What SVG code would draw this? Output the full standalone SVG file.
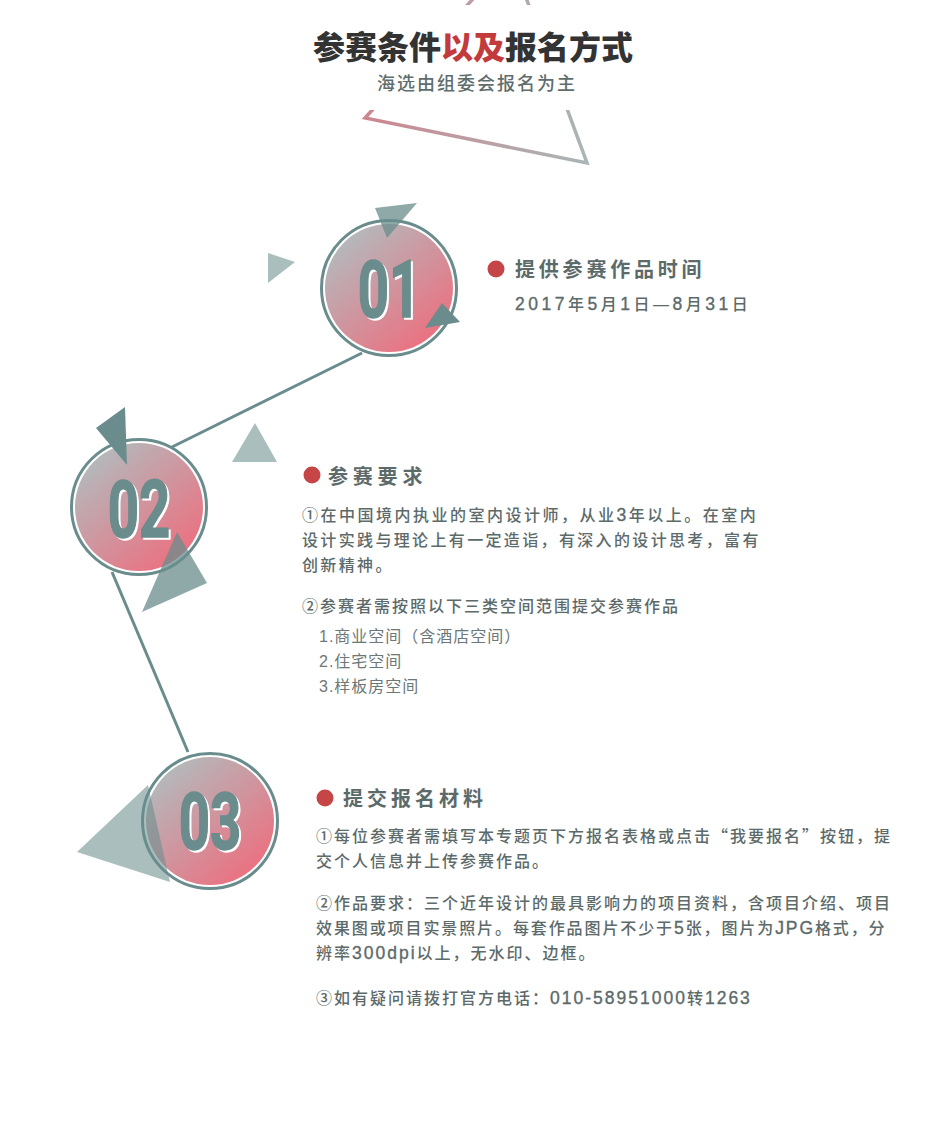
<svg xmlns="http://www.w3.org/2000/svg" width="950" height="1128" viewBox="0 0 950 1128">
<defs>
<linearGradient id="cg" x1="0.18" y1="0.12" x2="0.85" y2="0.9">
<stop offset="0" stop-color="#b5b7ba"/>
<stop offset="1" stop-color="#ec7080"/>
</linearGradient>
<linearGradient id="tg" gradientUnits="userSpaceOnUse" x1="365" y1="0" x2="587" y2="0">
<stop offset="0" stop-color="#cc8690"/>
<stop offset="1" stop-color="#a9b6b6"/>
</linearGradient>
<style>
.ring{fill:none;stroke:#6a8c8c;stroke-width:3}
.fill{fill:url(#cg)}
.num{font-family:Roboto,"Liberation Sans",sans-serif;font-weight:700;font-size:80px;text-anchor:middle}
.numf{fill:#6a8c8c;stroke:#6a8c8c;stroke-width:1.5}
.nums{fill:#ffffff;stroke:#ffffff;stroke-width:1.5}
.dark{fill:#6a8c8c}
.mid{fill:#6a8c8c;opacity:0.75}
.light{fill:#6a8c8c;opacity:0.57}
.conn{stroke:#6a8c8c;stroke-width:3;fill:none}
.dot{fill:#c64547}
.h{font-family:"Noto Sans CJK SC","Noto Sans",sans-serif;font-weight:700;font-size:20px;fill:#5c6a6a}
.b{font-family:"Liberation Sans","Noto Sans CJK SC",sans-serif;font-weight:500;font-size:16px;fill:#5c6a6a}
.li{font-family:"Liberation Sans","Noto Sans CJK SC",sans-serif;font-weight:400;font-size:16px;fill:#6c7878;letter-spacing:1px}
.lat{font-size:17.5px;stroke:#5c6a6a;stroke-width:0.35}
.cjk{font-family:"Noto Sans CJK SC",sans-serif}
</style>
</defs>
<rect width="950" height="1128" fill="#ffffff"/>

<g id="title">
<polygon points="511,-43 365,118 587,163" fill="none" stroke="url(#tg)" stroke-width="3.5"/>
<rect x="300" y="5" width="350" height="105" fill="#ffffff"/>
<text x="473" y="59" text-anchor="middle" font-family="'Noto Sans CJK SC',sans-serif" font-weight="900" font-size="32" fill="#333333">参赛条件<tspan fill="#c23a3c">以及</tspan>报名方式</text>
<text x="477" y="90" text-anchor="middle" font-family="'Noto Sans CJK SC',sans-serif" font-weight="500" font-size="18" fill="#5f6d6d" letter-spacing="2">海选由组委会报名为主</text>
</g>

<g id="connectors">
<line class="conn" x1="362" y1="353" x2="172" y2="447"/>
<line class="conn" x1="112" y1="572" x2="188" y2="752"/>
</g>

<g id="node01">
<circle class="fill" cx="389" cy="288" r="64"/>
<circle class="ring" cx="389" cy="288" r="67.5"/>
<g class="num">
<text class="nums" transform="translate(391,319) scale(0.68,1)">01</text>
<text class="numf" transform="translate(389,317) scale(0.68,1)">01</text>
</g>
<polygon class="mid" points="375,208 417,203 387,238"/>
<polygon class="light" points="268,253 295,262 268,283"/>
<polygon class="dark" points="442,303 460,322 425,328"/>
</g>

<g id="node02">
<circle class="fill" cx="139" cy="507" r="64"/>
<circle class="ring" cx="139" cy="507" r="67.5"/>
<g class="num">
<text class="nums" transform="translate(141,539) scale(0.68,1)">02</text>
<text class="numf" transform="translate(139,537) scale(0.68,1)">02</text>
</g>
<polygon class="dark" points="96,428 125,407 127,465"/>
<polygon class="light" points="232,462 255,423 277,462"/>
<polygon class="mid" points="177,532 207,583 142,612"/>
</g>

<g id="node03">
<circle class="fill" cx="210" cy="821" r="64"/>
<circle class="ring" cx="210" cy="821" r="67.5"/>
<g class="num">
<text class="nums" transform="translate(212,851) scale(0.68,1)">03</text>
<text class="numf" transform="translate(210,849) scale(0.68,1)">03</text>
</g>
<polygon class="light" points="77,852 148,785 170,882"/>
</g>

<g id="text01">
<circle class="dot" cx="496" cy="269" r="8.5"/>
<text class="h" x="515" y="276.5" letter-spacing="3.8">提供参赛作品时间</text>
<text class="b" x="515" y="310" font-size="17" letter-spacing="3.5"><tspan class="lat" font-size="18.5">2017</tspan>年<tspan class="lat" font-size="18.5">5</tspan>月<tspan class="lat" font-size="18.5">1</tspan>日—<tspan class="lat" font-size="18.5">8</tspan>月<tspan class="lat" font-size="18.5">31</tspan>日</text>
</g>

<g id="text02">
<circle class="dot" cx="312" cy="475" r="8.5"/>
<text class="h" x="328" y="483.5" letter-spacing="4.8">参赛要求</text>
<text class="b" x="302" y="521" letter-spacing="2.5">①在中国境内执业的室内设计师，从业<tspan class="lat">3</tspan>年以上。在室内</text>
<text class="b" x="302" y="546" letter-spacing="2.35">设计实践与理论上有一定造诣，有深入的设计思考，富有</text>
<text class="b" x="302" y="571" letter-spacing="2.35">创新精神。</text>
<text class="b" x="302" y="612" letter-spacing="2.0">②参赛者需按照以下三类空间范围提交参赛作品</text>
<text class="li" x="319" y="642">1.商业空间（含酒店空间）</text>
<text class="li" x="319" y="667">2.住宅空间</text>
<text class="li" x="319" y="692">3.样板房空间</text>
</g>

<g id="text03">
<circle class="dot" cx="325" cy="798" r="8.5"/>
<text class="h" x="343" y="806" letter-spacing="4">提交报名材料</text>
<text class="b" x="316" y="842" letter-spacing="2">①每位参赛者需填写本专题页下方报名表格或点击<tspan class="cjk">“</tspan>我要报名<tspan class="cjk">”</tspan>按钮，提</text>
<text class="b" x="316" y="867" letter-spacing="2">交个人信息并上传参赛作品。</text>
<text class="b" x="316" y="909" letter-spacing="2">②作品要求：三个近年设计的最具影响力的项目资料，含项目介绍、项目</text>
<text class="b" x="316" y="934" letter-spacing="1.9">效果图或项目实景照片。每套作品图片不少于<tspan class="lat">5</tspan>张，图片为<tspan class="lat">JPG</tspan>格式，分</text>
<text class="b" x="316" y="959" letter-spacing="2">辨率<tspan class="lat">300dpi</tspan>以上，无水印、边框。</text>
<text class="b" x="316" y="1004" letter-spacing="2">③如有疑问请拨打官方电话：<tspan class="lat">010-58951000</tspan>转<tspan class="lat">1263</tspan></text>
</g>
</svg>
